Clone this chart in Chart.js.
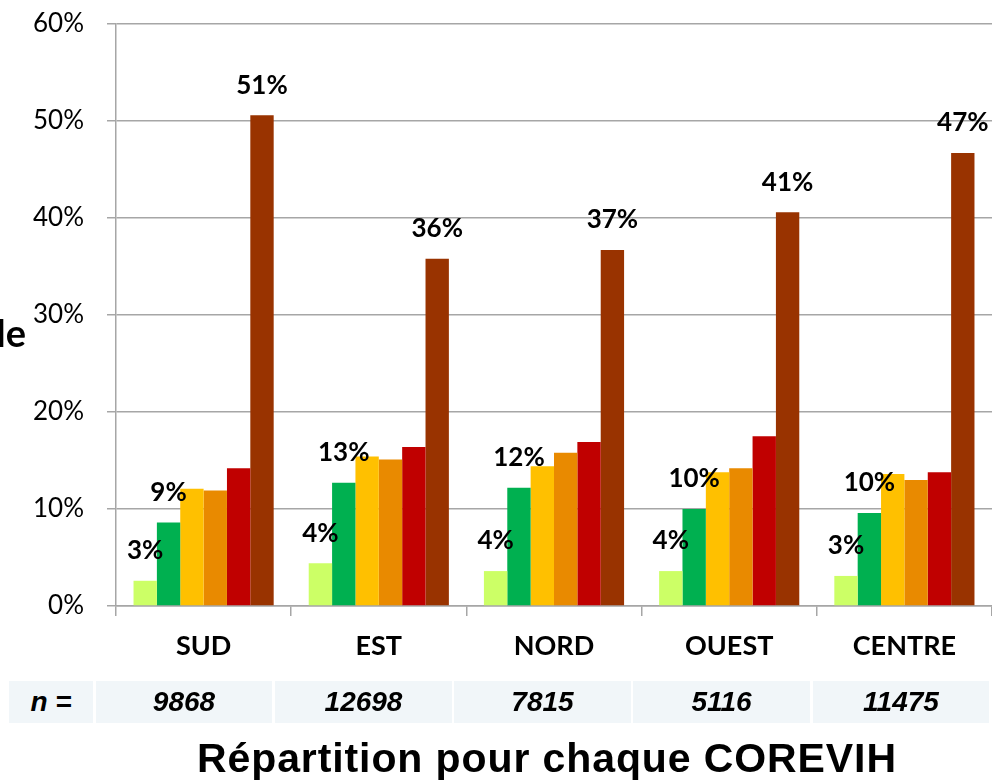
<!DOCTYPE html>
<html>
<head>
<meta charset="utf-8">
<script src="https://cdn.jsdelivr.net/npm/chart.js@4/dist/chart.umd.min.js"></script>
<style>
  html, body { margin: 0; padding: 0; background: #fff; }
  #wrap { position: relative; width: 992px; height: 784px; overflow: hidden; }
  canvas { position: absolute; left: 0; top: 0; }
  .cell { position: absolute; top: 681px; height: 42px; background: #f1f6f9;
          font: italic bold 28px "Liberation Sans", Arial, sans-serif; color: #000;
          display: flex; align-items: center; justify-content: center; }
  #title { position: absolute; left: 197px; top: 733px; white-space: nowrap;
           font: bold 41px/50px "Liberation Sans", Arial, sans-serif; letter-spacing: 0.9px; color: #000; }
  #ytitle { position: absolute; right: 966px; top: 308px; white-space: nowrap;
            font: bold 38px/48px Lato, "Liberation Sans", sans-serif; color: #000; }
</style>
</head>
<body>
<div id="wrap">
  <canvas id="c" width="992" height="784"></canvas>
  <div id="ytitle">le</div>
  <div id="table"></div>
  <div id="title">Répartition pour chaque COREVIH</div>
</div>
<script>
const categories = ["SUD", "EST", "NORD", "OUEST", "CENTRE"];
const nLabel = "n =";
const nValues = ["9868", "12698", "7815", "5116", "11475"];
const yTicks = [0, 10, 20, 30, 40, 50, 60];

const series1 = [2.6, 4.4, 3.6, 3.6, 3.1];
const series2 = [8.6, 12.7, 12.2, 10.0, 9.6];
const series3 = [12.1, 15.4, 14.4, 13.8, 13.6];
const series4 = [11.9, 15.1, 15.8, 14.2, 13.0];
const series5 = [14.2, 16.4, 16.9, 17.5, 13.8];
const series6 = [50.6, 35.8, 36.7, 40.6, 46.7];

const colors = ["#ccff66", "#00b050", "#ffc000", "#e98a00", "#c00000", "#993300"];
const labelledSeries = [0, 1, 5];

// n = table row (HTML text)
const table = document.getElementById('table');
const cellDefs = [[9, 93], [96, 272], [275, 452], [454, 631], [633, 810], [813, 989]];
const cellTexts = [nLabel].concat(nValues);
cellDefs.forEach((d, i) => {
  const el = document.createElement('div');
  el.className = 'cell';
  el.style.left = d[0] + 'px';
  el.style.width = (d[1] - d[0]) + 'px';
  el.textContent = cellTexts[i];
  table.appendChild(el);
});

const valueLabels = {
  id: 'valueLabels',
  afterDatasetsDraw(chart) {
    const ctx = chart.ctx;
    ctx.save();
    ctx.font = 'bold 26px Lato, "Liberation Sans", sans-serif';
    ctx.fillStyle = '#000';
    ctx.textAlign = 'center';
    ctx.textBaseline = 'middle';
    labelledSeries.forEach(di => {
      const meta = chart.getDatasetMeta(di);
      meta.data.forEach((bar, i) => {
        const v = chart.data.datasets[di].data[i];
        ctx.fillText(Math.round(v) + '%', bar.x, bar.y - 30);
      });
    });
    ctx.restore();
  }
};

const gridColor = '#a6a6a6';
new Chart(document.getElementById('c'), {
  type: 'bar',
  data: {
    labels: categories,
    datasets: [series1, series2, series3, series4, series5, series6].map((d, i) => ({
      data: d,
      backgroundColor: colors[i],
      borderWidth: 0,
      categoryPercentage: 0.8,
      barPercentage: 1.0
    }))
  },
  options: {
    responsive: false,
    animation: false,
    layout: { padding: { top: 24, right: 0, left: 0, bottom: 0 } },
    plugins: { legend: { display: false }, tooltip: { enabled: false } },
    scales: {
      x: {
        grid: { drawOnChartArea: false, offset: true, tickLength: 10, color: gridColor, lineWidth: 1.5 },
        border: { color: gridColor, width: 1.5 },
        ticks: { color: '#000', font: { family: 'Lato, "Liberation Sans", sans-serif', size: 27, weight: 'bold' }, padding: 14 },
        afterFit: s => { s.height = 178; }
      },
      y: {
        min: 0, max: 60,
        afterBuildTicks: s => { s.ticks = yTicks.map(v => ({ value: v })); },
        grid: { color: gridColor, lineWidth: 1.5, tickLength: 9 },
        border: { color: gridColor, width: 1.5 },
        ticks: { color: '#000', font: { family: 'Lato, "Liberation Sans", sans-serif', size: 26 }, padding: 23,
                 callback: v => v + '%' },
        afterFit: s => { s.width = 116; s.paddingTop = 0; s.paddingBottom = 0; }
      }
    }
  },
  plugins: [valueLabels]
});
</script>
</body>
</html>
